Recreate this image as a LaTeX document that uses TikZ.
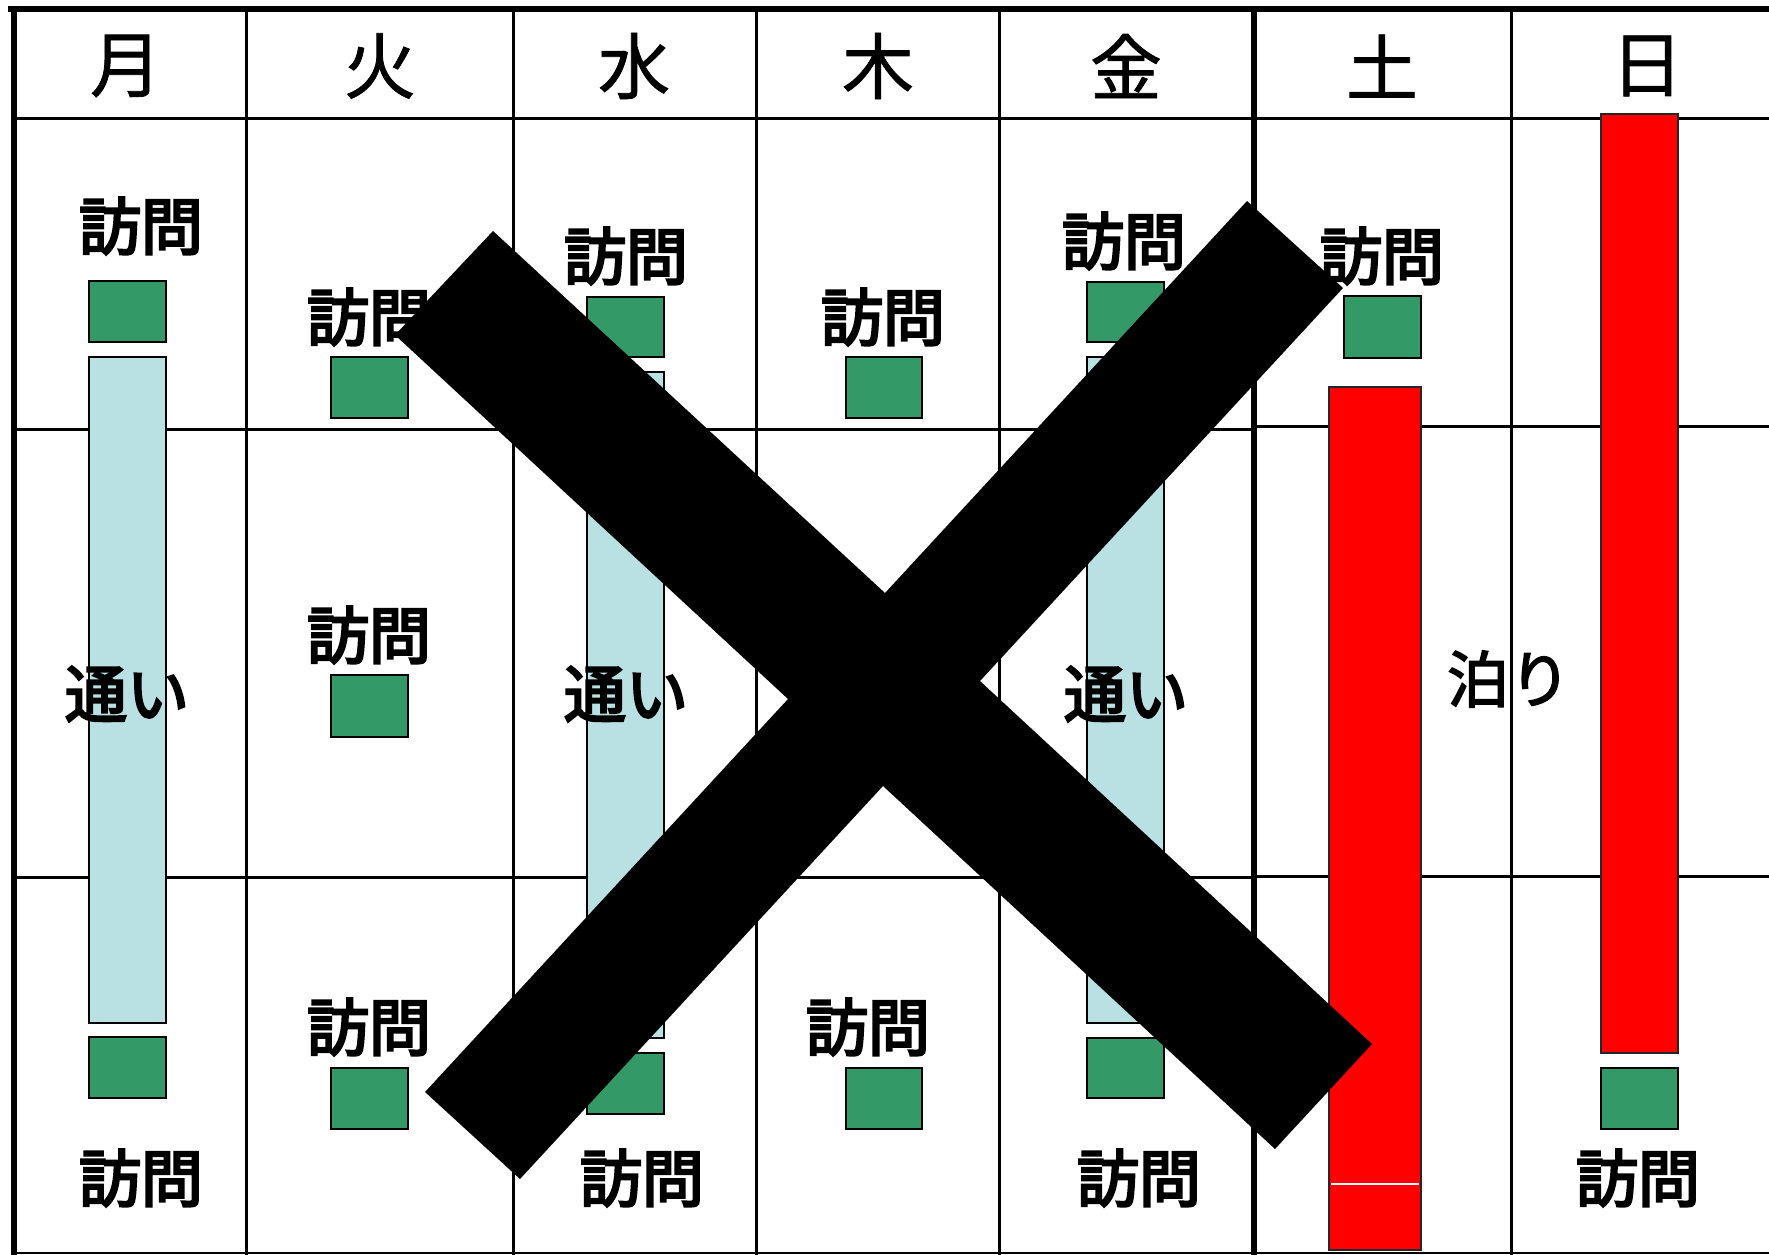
\documentclass[tikz,border=0pt]{standalone}
\usepackage{fontspec}
\newfontfamily\cjk[FakeBold=1]{Noto Sans CJK JP}
\newfontfamily\cjkmid[FakeBold=2.5]{Noto Sans CJK JP}
\newfontfamily\cjkheavy[FakeBold=4]{Noto Sans CJK JP}
\definecolor{visitgreen}{RGB}{51,153,102}
\definecolor{commuteblue}{RGB}{185,224,227}
\definecolor{stayred}{RGB}{255,0,0}
\tikzset{
  gridthin/.style={line width=3pt, line cap=rect},
  gridthick/.style={line width=6.5pt, line cap=rect},
  visitbox/.style={draw=black, line width=2.5pt, fill=visitgreen},
  commutebar/.style={draw=black, line width=2pt, fill=commuteblue},
  staybar/.style={draw=black!85, line width=2.5pt, fill=stayred},
  lbl/.style={font=\cjkheavy\fontsize{62}{70}\selectfont, inner sep=0pt},
  staylbl/.style={font=\cjkmid\fontsize{62}{70}\selectfont, inner sep=0pt},
  daylbl/.style={font=\cjk\fontsize{72}{80}\selectfont, inner sep=0pt},
  crossmark/.style={fill=black},
}
\begin{document}
\begin{tikzpicture}[x=1pt,y=-1pt]
\useasboundingbox (0,0) rectangle (1769,1254);
\fill[white] (0,0) rectangle (1769,1254);

% grid
\draw[gridthin] (14,118) -- (1769,118);
\draw[gridthin] (14,429) -- (1254,429);
\draw[gridthin] (1254,426) -- (1769,426);
\draw[gridthin] (14,877) -- (1254,877);
\draw[gridthin] (1254,876) -- (1769,876);
\draw[line width=2pt] (14,1253) -- (1769,1253);
\foreach \cx in {246,513,756,999,1511}
  \draw[gridthin] (\cx,9) -- (\cx,1254);
\draw[gridthick] (1254,9) -- (1254,1254);
\draw[gridthick] (14,9) -- (14,1256);
\draw[gridthick] (11,9) -- (1769,9);

% header
\node[daylbl] (mon) at (126,66) {月};
\node[daylbl] (tue) at (380,66) {火};
\node[daylbl] (wed) at (634,66) {水};
\node[daylbl] (thu) at (878,66) {木};
\node[daylbl] (fri) at (1126,66) {金};
\node[daylbl] (sat) at (1382,66) {土};
\node[daylbl] (sun) at (1647,66) {日};

% Monday
\path[visitbox] (89,281) rectangle (166,342);
\path[commutebar] (89,357) rectangle (166,1023);
\path[visitbox] (89,1037) rectangle (166,1098);
\node[lbl] (monv1) at (141,226) {訪問};
\node[lbl] (monc) at (127,694) {通い};
\node[lbl] (monv2) at (141,1178) {訪問};

% Tuesday
\path[visitbox] (331,357) rectangle (408,418);
\path[visitbox] (331,675) rectangle (408,737);
\path[visitbox] (331,1068) rectangle (408,1129);
\node[lbl] (tuev1) at (369,317) {訪問};
\node[lbl] (tuev2) at (369,635) {訪問};
\node[lbl] (tuev3) at (369,1027) {訪問};

% Wednesday
\path[visitbox] (587,297) rectangle (664,357);
\path[commutebar] (587,372) rectangle (664,1038);
\path[visitbox] (587,1053) rectangle (664,1114);
\node[lbl] (wedv1) at (626,256) {訪問};
\node[lbl] (wedc) at (626,694) {通い};
\node[lbl] (wedv2) at (642,1178) {訪問};

% Thursday
\path[visitbox] (846,357) rectangle (922,418);
\path[visitbox] (846,1068) rectangle (922,1129);
\node[lbl] (thuv1) at (883,317) {訪問};
\node[lbl] (thuv2) at (868,1027) {訪問};

% Friday
\path[visitbox] (1087,282) rectangle (1164,342);
\path[commutebar] (1087,357) rectangle (1164,1023);
\path[visitbox] (1087,1038) rectangle (1164,1098);
\node[lbl] (friv1) at (1124,241) {訪問};
\node[lbl] (fric) at (1126,694) {通い};
\node[lbl] (friv2) at (1139,1178) {訪問};

% Saturday
\path[visitbox] (1344,296) rectangle (1421,358);
\path[staybar] (1329,387) rectangle (1421,1250);
\draw[white, line width=1.2pt] (1331,1184) -- (1419,1184);
\node[lbl] (satv) at (1382,256) {訪問};

% Sunday
\path[staybar] (1601,114) rectangle (1678,1053);
\path[visitbox] (1601,1068) rectangle (1678,1129);
\node[lbl] (sunv) at (1638,1178) {訪問};

% stay label
\node[staylbl] (stay) at (1509,679) {泊り};

% big cross
\fill[crossmark] (493,231) -- (885,593) -- (1247,201) -- (1343,288) -- (980,681)
  -- (1372,1044) -- (1275,1149) -- (883,786) -- (520,1179) -- (425,1092)
  -- (788,699) -- (395,335) -- cycle;
\end{tikzpicture}
\end{document}
